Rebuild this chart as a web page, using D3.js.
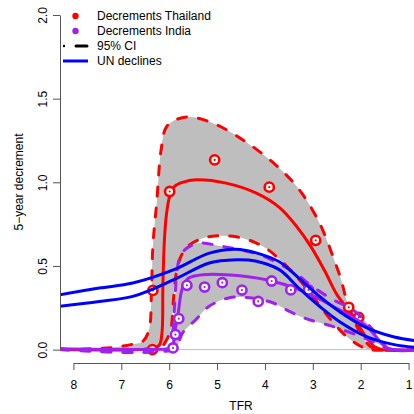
<!DOCTYPE html>
<html>
<head>
<meta charset="utf-8">
<script src="https://d3js.org/d3.v7.min.js"></script>
<style>
body { margin: 0; background: #fff; }
text { font-family: "Liberation Sans", Arial, Helvetica, sans-serif; font-size: 12px; fill: #000; }
</style>
</head>
<body>
<svg width="414" height="414"></svg>
<script>
// tick labels
const tfrTicks = [8, 7, 6, 5, 4, 3, 2, 1];
const decTicks = [0, 0.5, 1, 1.5, 2];

// observed decrements (TFR, 5-year decrement)
const thaiTfr = [6.35, 6.34, 5.99, 5.05, 3.91, 2.94, 2.25, 2.04];
const thaiDec = [0.0, 0.354, 0.945, 1.134, 0.971, 0.653, 0.253, 0.193];
const indiaTfr = [5.92, 5.87, 5.80, 5.63, 5.26, 4.89, 4.48, 4.14, 3.86, 3.46, 3.09];
const indiaDec = [0.01, 0.09, 0.185, 0.384, 0.374, 0.40, 0.356, 0.288, 0.41, 0.357, 0.357];

// fitted curves as [TFR, decrement]
const thaiMed = [[8.28,0],[6.6,0],[6.3,0.01],[6.2,0.03],[6.15,0.1],[6.13,0.4],[6.1,0.65],[6.06,0.8],[5.99,0.915],[5.89,0.975],[5.72,1.0],[5.44,1.015],[4.81,0.995],[4.18,0.935],[3.7,0.85],[3.35,0.74],[3.05,0.62],[2.75,0.47],[2.5,0.33],[2.16,0.2],[1.9,0.08],[1.7,0.015],[1.55,0],[0.72,0]];
const thaiUp = [[8.28,0],[7.6,0.005],[7.2,0.012],[6.8,0.03],[6.55,0.05],[6.42,0.12],[6.37,0.35],[6.34,0.62],[6.26,0.88],[6.17,1.19],[6.06,1.33],[5.85,1.375],[5.54,1.39],[5.02,1.345],[4.39,1.24],[3.76,1.1],[3.28,0.955],[2.86,0.756],[2.58,0.557],[2.41,0.418],[2.3,0.3],[2.13,0.17],[1.95,0.07],[1.78,0.015],[1.65,0],[0.72,0]];
const thaiLo = [[8.28,0],[6.6,0],[6.3,0.01],[6.15,0.02],[6.05,0.06],[5.96,0.13],[5.91,0.3],[5.85,0.46],[5.75,0.56],[5.6,0.62],[5.3,0.665],[5.0,0.68],[4.6,0.675],[4.2,0.64],[3.9,0.59],[3.7,0.54],[3.45,0.47],[3.2,0.39],[2.9,0.28],[2.6,0.17],[2.3,0.08],[2.0,0.02],[1.8,0],[0.72,0]];
const indiaMed = [[8.28,0.005],[6.0,0.005],[5.93,0.01],[5.89,0.1],[5.82,0.2],[5.75,0.34],[5.68,0.4],[5.58,0.43],[5.3,0.448],[4.81,0.448],[3.97,0.418],[3.28,0.358],[2.58,0.259],[1.88,0.139],[1.6,0.05],[1.45,0.01],[1.3,0],[0.72,0]];
const indiaUp = [[8.28,0.005],[6.0,0.01],[5.93,0.1],[5.88,0.3],[5.84,0.46],[5.78,0.55],[5.66,0.6],[5.37,0.637],[4.95,0.62],[4.53,0.597],[4.11,0.567],[3.7,0.513],[3.28,0.44],[3.07,0.39],[2.59,0.3],[2.17,0.24],[1.75,0.12],[1.54,0.04],[1.4,0],[0.72,0]];
const indiaLo = [[8.28,0],[5.9,0],[5.82,0.03],[5.72,0.1],[5.44,0.18],[5.16,0.26],[4.74,0.31],[4.32,0.31],[3.84,0.28],[3.5,0.23],[3.14,0.185],[2.6,0.14],[2.02,0.08],[1.61,0.03],[1.4,0],[0.72,0]];
const unHigh = [[8.29,0.328],[7.46,0.368],[6.76,0.398],[5.9,0.478],[5.16,0.577],[4.6,0.6],[4.2,0.58],[3.7,0.525],[3.28,0.424],[2.86,0.318],[2.44,0.227],[1.88,0.131],[1.3,0.075],[0.72,0.048]];
const unLow = [[8.29,0.259],[7.46,0.288],[6.76,0.318],[5.9,0.418],[5.16,0.518],[4.6,0.537],[4.2,0.53],[3.7,0.478],[3.28,0.364],[2.86,0.259],[2.44,0.167],[1.88,0.078],[1.3,0.03],[0.72,0.01]];

const red = "#ff0000", purple = "#a020f0", blue = "#0000ff", band = "#bebebe";

const svg = d3.select("svg");
const x = d3.scaleLinear().domain([8.28, 0.72]).range([60, 422]);
const y = d3.scaleLinear().domain([-0.08, 2.08]).range([363, 1.6]);

svg.append("defs").append("clipPath").attr("id", "plot")
  .append("rect").attr("x", 60).attr("y", 1.6).attr("width", 362).attr("height", 361.4);

const line = d3.line().x(d => x(d[0])).y(d => y(d[1])).curve(d3.curveCatmullRom.alpha(0.5));
function bandPath(up, lo) {
  const p2 = line(lo.slice().reverse());
  return line(up) + "L" + p2.slice(1) + "Z";
}

const plot = svg.append("g").attr("clip-path", "url(#plot)");

// grey credible bands
plot.append("path").attr("d", bandPath(thaiUp, thaiLo)).attr("fill", band);
plot.append("path").attr("d", bandPath(indiaUp, indiaLo)).attr("fill", band);

// zero line
plot.append("line").attr("x1", 60).attr("x2", 422).attr("y1", y(0)).attr("y2", y(0))
  .attr("stroke", band).attr("stroke-width", 1);

function curve(data, color, dashed) {
  plot.append("path").attr("d", line(data)).attr("fill", "none")
    .attr("stroke", color).attr("stroke-width", 3)
    .attr("stroke-linecap", dashed ? "round" : "butt")
    .attr("stroke-dasharray", dashed ? "9,12" : null);
}
function points(ts, vs, color) {
  const g = plot.append("g").selectAll("g").data(ts).enter().append("g")
    .attr("transform", (d, i) => "translate(" + x(d) + "," + y(vs[i]) + ")");
  g.append("circle").attr("r", 4.6).attr("fill", "#fff").attr("stroke", color).attr("stroke-width", 2.6);
  g.append("circle").attr("r", 1.1).attr("fill", color);
}

curve(thaiUp, red, true);
curve(thaiLo, red, true);
curve(thaiMed, red, false);
points(thaiTfr, thaiDec, red);

curve(indiaUp, purple, true);
curve(indiaLo, purple, true);
curve(indiaMed, purple, false);
points(indiaTfr, indiaDec, purple);

curve(unHigh, blue, false);
curve(unLow, blue, false);

// axes
const yAx = d3.scaleLinear().domain([0, 2]).range([y(0), y(2)]);
const gy = svg.append("g").attr("transform", "translate(60,0)")
  .call(d3.axisLeft(yAx).tickValues(decTicks).tickFormat(d3.format(".1f")).tickSize(7).tickSizeOuter(0));
gy.select(".domain").attr("stroke", "#555");
gy.selectAll(".tick line").attr("stroke", "#555");
gy.selectAll(".tick text").attr("x", null).attr("dy", null)
  .attr("transform", "translate(-13.5,0) rotate(-90)")
  .attr("text-anchor", "middle").attr("font-size", 12).attr("fill", "#000");

const xAx = d3.scaleLinear().domain([8, 1]).range([x(8), x(1)]);
const gx = svg.append("g").attr("transform", "translate(0,363)")
  .call(d3.axisBottom(xAx).tickValues(tfrTicks).tickFormat(d3.format("d")).tickSize(7).tickSizeOuter(0));
gx.select(".domain").attr("stroke", "#555");
gx.selectAll(".tick line").attr("stroke", "#555");
gx.selectAll(".tick text").attr("y", 17).attr("font-size", 12).attr("fill", "#000");

svg.selectAll(".tick text").style("font-family", "'Liberation Sans', Arial, sans-serif");

svg.append("text").attr("x", 241).attr("y", 410).attr("text-anchor", "middle").text("TFR");
svg.append("text").attr("transform", "translate(23,182) rotate(-90)")
  .attr("text-anchor", "middle").text("5\u2212year decrement");

// legend
const legend = svg.append("g");
const items = ["Decrements Thailand", "Decrements India", "95% CI", "UN declines"];
items.forEach((t, i) => {
  legend.append("text").attr("x", 97).attr("y", 16 + i * 15).attr("dy", "0.35em").text(t);
});
legend.append("circle").attr("cx", 75.5).attr("cy", 16).attr("r", 3.2).attr("fill", red);
legend.append("circle").attr("cx", 75.5).attr("cy", 31).attr("r", 3.2).attr("fill", purple);
legend.append("circle").attr("cx", 64).attr("cy", 46).attr("r", 1.2).attr("fill", "#000");
legend.append("line").attr("x1", 76).attr("x2", 87).attr("y1", 46).attr("y2", 46)
  .attr("stroke", "#000").attr("stroke-width", 3).attr("stroke-linecap", "round");
legend.append("line").attr("x1", 63).attr("x2", 88).attr("y1", 61).attr("y2", 61)
  .attr("stroke", blue).attr("stroke-width", 3);
</script>
</body>
</html>
